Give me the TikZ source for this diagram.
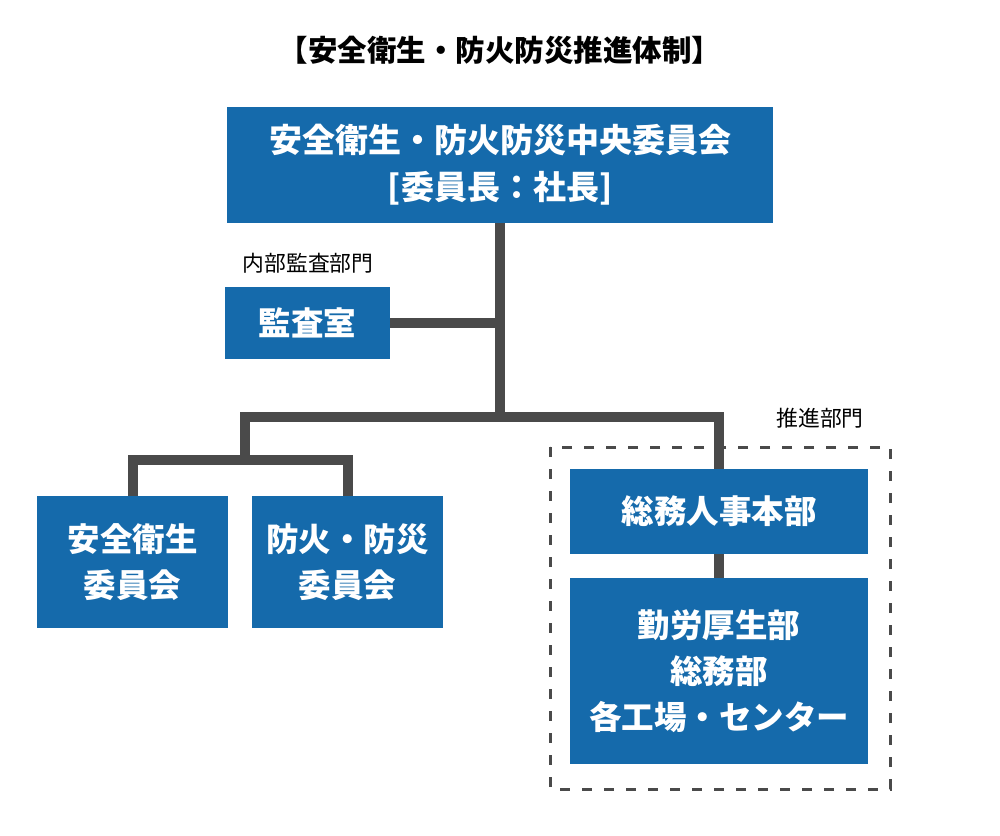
\documentclass[tikz,border=0pt]{standalone}
\usepackage{fontspec}
\setmainfont{Noto Sans CJK JP}
\definecolor{boxblue}{RGB}{21,106,171}
\definecolor{linegray}{RGB}{74,74,74}
\begin{document}
\begin{tikzpicture}[x=1pt,y=-1pt,
  box/.style={fill=boxblue,draw=none,text=white,inner sep=0pt,align=center,
    font=\bfseries\fontsize{32.5}{46}\selectfont},
  conn/.style={draw=linegray,line width=10pt,line join=miter},
  grp/.style={draw=linegray,line width=3pt,dash pattern=on 10pt off 12pt},
  lbl/.style={inner sep=0pt,font=\fontsize{21.8}{24}\selectfont}]
\useasboundingbox (0,0) rectangle (1000,835);
\node[inner sep=0pt,font=\bfseries\fontsize{29.5}{32}\selectfont] (title) at (500,50) {【安全衛生・防火防災推進体制】};
\node[box,minimum width=546pt,minimum height=116pt,font=\bfseries\fontsize{33}{47}\selectfont] (top) at (500,165) {安全衛生・防火防災中央委員会\\{[}委員長：社長{]}};
\node[lbl] (auditlbl) at (308,263) {内部監査部門};
\node[box,minimum width=165pt,minimum height=72pt] (audit) at (307.5,323) {監査室};
\node[box,minimum width=191pt,minimum height=132pt] (l1) at (132.5,562) {安全衛生\\委員会};
\node[box,minimum width=191pt,minimum height=132pt] (l2) at (347.5,562) {防火・防災\\委員会};
\node[lbl] (promlbl) at (820,418) {推進部門};
\draw[grp] (550,447) rectangle (890,789);
\node[box,minimum width=298pt,minimum height=85pt] (soumu) at (719,511.5) {総務人事本部};
\node[box,minimum width=298pt,minimum height=186pt] (bottom) at (719,671) {勤労厚生部\\総務部\\各工場・センター};
\coordinate (j1) at (500,417);
\coordinate (jl) at (245,460);
\draw[conn] (top.south) -- (j1);
\draw[conn] (audit.east) -- (audit.east -| top.south);
\draw[conn] (l1.north) |- (jl) -| (l2.north);
\draw[conn] (jl) |- (j1) -| (soumu.north);
\draw[conn] (soumu.south) -- (bottom.north);
\end{tikzpicture}
\end{document}
